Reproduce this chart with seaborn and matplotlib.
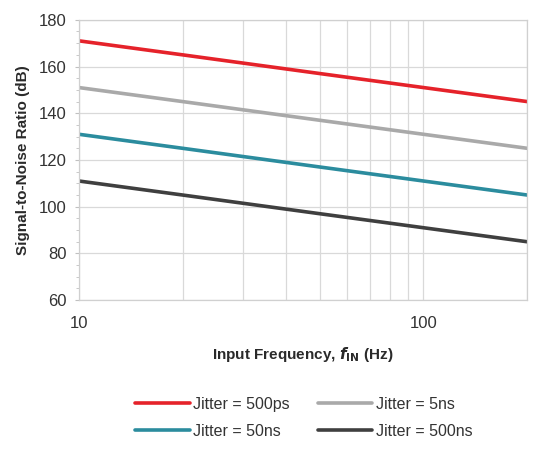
import numpy as np
import pandas as pd
import matplotlib
matplotlib.use("Agg")
import matplotlib.pyplot as plt
import seaborn as sns
from matplotlib.ticker import FixedLocator, NullFormatter, MultipleLocator

# values
freq_hz = [10, 20, 50, 100, 200]
snr_500ps = [171, 165, 157, 151, 145]
snr_5ns = [151, 145, 137, 131, 125]
snr_50ns = [131, 125, 117, 111, 105]
snr_500ns = [111, 105, 97, 91, 85]

labels = ["Jitter = 500ps", "Jitter = 5ns", "Jitter = 50ns", "Jitter = 500ns"]
colors = ["#e5222a", "#a9a9a9", "#2b8c9e", "#3f3f3f"]

df = pd.DataFrame({
    "freq": freq_hz * 4,
    "snr": snr_500ps + snr_5ns + snr_50ns + snr_500ns,
    "jitter": [l for l in labels for _ in freq_hz],
})

sns.set_style("white")
plt.rcParams["font.family"] = ["Liberation Sans", "DejaVu Sans"]

fig = plt.figure(figsize=(5.33, 4.5), dpi=100)
ax = fig.add_axes([0.148, 0.333, 0.841, 0.623])

sns.lineplot(data=df, x="freq", y="snr", hue="jitter", hue_order=labels,
             palette=colors, linewidth=2.6, ax=ax, legend=False)

ax.set_xscale("log")
ax.set_xlim(10, 200)
ax.set_ylim(60, 180)

# grid
ax.xaxis.set_major_locator(FixedLocator([10, 100]))
ax.xaxis.set_minor_locator(FixedLocator([20, 30, 40, 50, 60, 70, 80, 90, 200]))
ax.xaxis.set_minor_formatter(NullFormatter())
ax.set_xticklabels(["10", "100"])
ax.yaxis.set_major_locator(MultipleLocator(20))
ax.yaxis.set_minor_locator(MultipleLocator(5))
ax.grid(which="major", axis="both", color="#d9d9d9", linewidth=0.9)
ax.grid(which="minor", axis="x", color="#d9d9d9", linewidth=0.9)
ax.set_axisbelow(True)

for s in ax.spines.values():
    s.set_color("#d0d0d0")
    s.set_linewidth(0.9)
ax.tick_params(axis="y", which="both", left=True, color="#c0c0c0", length=3,
               labelsize=12, labelcolor="#333333", pad=6)
ax.tick_params(axis="y", which="minor", length=2)
ax.tick_params(axis="x", which="both", bottom=False, labelsize=12,
               labelcolor="#333333", pad=8)

ax.set_ylabel("Signal-to-Noise Ratio (dB)", fontsize=11, fontweight="bold",
              color="#2a2a2a", labelpad=6)
ax.set_xlabel(r"Input Frequency, $\mathbfit{f}_{\mathbf{IN}}$ (Hz)", fontsize=11,
              fontweight="bold", color="#2a2a2a", labelpad=10)

# legend fills column-wise, so order handles to get 500ps/5ns on the top row
order = [0, 2, 1, 3]
handles = [plt.Line2D([], [], color=colors[i], linewidth=2.6) for i in order]
fig.legend(handles, [labels[i] for i in order], loc="center",
           bbox_to_anchor=(0.57, 0.071), ncol=2, frameon=False, fontsize=11.5,
           handlelength=3.4, handletextpad=0.2, columnspacing=1.8,
           labelspacing=0.75, labelcolor="#333333")

fig.savefig("out.png", dpi=100)
